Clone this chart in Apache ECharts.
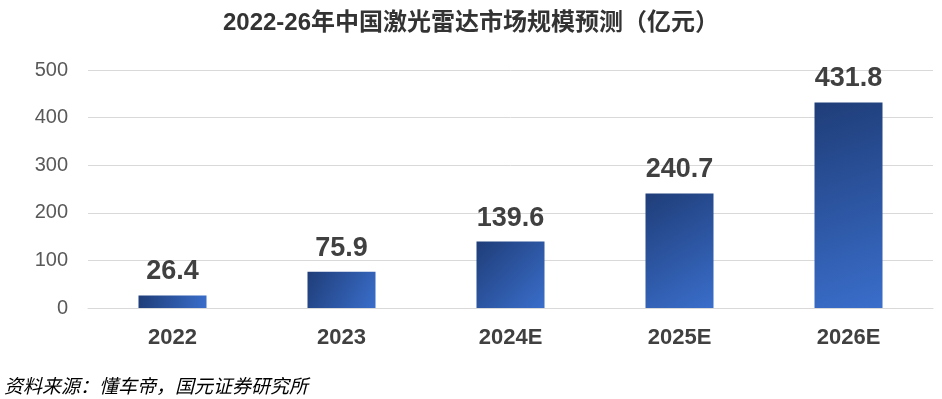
<!doctype html>
<html>
	<head>
		<meta charset="utf-8">
		<title>激光雷达市场规模</title>
		<style>
			html, body { margin: 0; padding: 0; background: #fff; }
		</style>
	</head>
	<body>
		<div id="container" style="height: 399px; width: 942px;"></div>

		<script src="https://cdn.jsdelivr.net/npm/echarts/dist/echarts.min.js"></script>

		<script>
			const years = ['2022', '2023', '2024E', '2025E', '2026E'];
			const marketSize = [26.4, 75.9, 139.6, 240.7, 431.8];
			const yTicks = [0, 100, 200, 300, 400, 500];

			var myChart = echarts.init(document.getElementById('container'));

			let barColor = new echarts.graphic.LinearGradient(0, 0, 1, 1, [
				{ offset: 0, color: '#1f3d78' },
				{ offset: 1, color: '#3a6ecb' }
			]);

			let opts = {
				animation: false,
				title: {
					text: '2022-26年中国激光雷达市场规模预测（亿元）',
					left: 'center',
					top: 6,
					textStyle: {
						fontFamily: 'Liberation Sans, Noto Sans CJK SC',
						fontSize: 24,
						fontWeight: 'bold',
						color: '#333333'
					}
				},
				graphic: [{
					type: 'text',
					left: 4,
					top: 376,
					style: {
						text: '资料来源：懂车帝，国元证券研究所',
						fontFamily: 'Noto Sans CJK SC',
						fontStyle: 'italic',
						fontSize: 19,
						fill: '#000'
					}
				}],
				grid: {
					left: 88,
					right: 9,
					top: 70,
					bottom: 91
				},
				xAxis: {
					type: 'category',
					data: years,
					axisTick: { show: false },
					axisLine: { lineStyle: { color: '#d9d9d9', width: 1 } },
					axisLabel: {
						margin: 19,
						fontSize: 22,
						fontWeight: 'bold',
						color: '#404040',
						fontFamily: 'Liberation Sans'
					}
				},
				yAxis: {
					type: 'value',
					min: yTicks[0],
					max: yTicks[yTicks.length - 1],
					interval: 100,
					axisLine: { show: false },
					axisTick: { show: false },
					splitLine: { lineStyle: { color: '#d9d9d9', width: 1 } },
					axisLabel: {
						margin: 20,
						fontSize: 20,
						color: '#595959',
						fontFamily: 'Liberation Sans'
					}
				},
				series: [{
					type: 'bar',
					data: marketSize,
					barWidth: 68,
					itemStyle: { color: barColor },
					label: {
						show: true,
						position: 'top',
						distance: 10,
						fontSize: 27,
						fontWeight: 'bold',
						color: '#404040',
						fontFamily: 'Liberation Sans',
						formatter: p => p.value.toFixed(1)
					}
				}]
			};

			myChart.setOption(opts, true);
		</script>
	</body>
</html>
